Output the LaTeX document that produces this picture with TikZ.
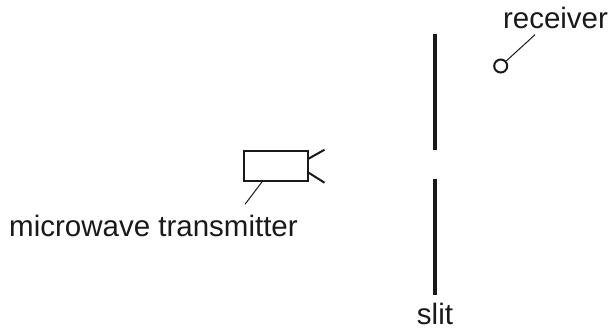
\documentclass[tikz,border=0pt]{standalone}
\usepackage{fontspec}
\setmainfont{Liberation Sans}
\tikzset{
 lab/.style={inner sep=0pt,font=\fontsize{29.5bp}{32bp}\selectfont,text=black!90},
 leader/.style={line width=1bp,black!90},
 heavy/.style={line width=2bp,black!90},
 wall/.style={line width=4bp,black!90}
}
\begin{document}
\begin{tikzpicture}[x=1bp,y=-1bp]
\useasboundingbox (0,0) rectangle (608,329);
\node[lab,anchor=base] (recv) at (555.5,28.5) {receiver};
\node[lab,anchor=base] (trans) at (153.5,236) {microwave transmitter};
\node[lab,anchor=base] (slit) at (435,324) {slit};
\coordinate (s1) at (434.5,34); \coordinate (s2) at (434.5,150);
\coordinate (s3) at (434.5,179); \coordinate (s4) at (434.5,295);
\draw[wall] (s1) -- (s2);
\draw[wall] (s3) -- (s4);
\node[draw,heavy,minimum width=64.5bp,minimum height=29.5bp,inner sep=0pt,anchor=north west] (box) at (242.5,150) {};
\coordinate (h1) at (324.5,149.7); \coordinate (h2) at (324.5,182.7);
\coordinate (b1) at (308,159); \coordinate (b2) at (308,172.3);
\draw[heavy] (b1) -- (h1);
\draw[heavy] (b2) -- (h2);
\node[draw,heavy,circle,minimum size=13bp,inner sep=0pt] (rc) at (500.7,66) {};
\coordinate (l1) at (535,34.7);
\draw[leader] (rc) -- (l1);
\coordinate (l2) at (262.7,181); \coordinate (l3) at (245,204.3);
\draw[leader] (l2) -- (l3);
\end{tikzpicture}
\end{document}
